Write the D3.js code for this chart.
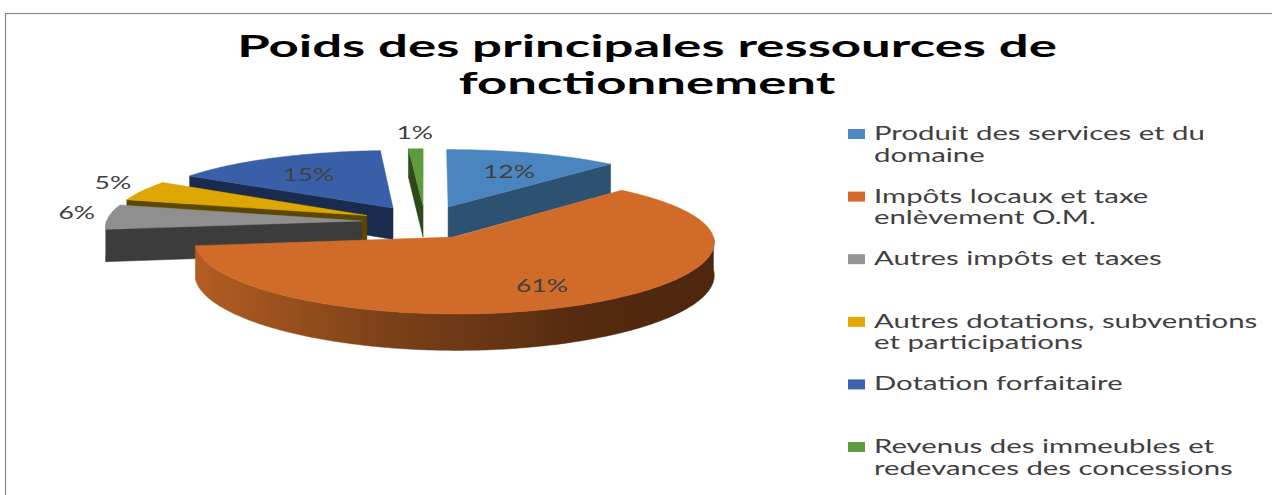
<!DOCTYPE html>
<html>
<head>
<meta charset="utf-8">
<script src="https://cdn.jsdelivr.net/npm/d3@7"></script>
<style>
  body { margin: 0; background: #fff; }
  svg { display: block; }
</style>
</head>
<body>
<div id="chart"></div>
<script>
// Poids des principales ressources de fonctionnement – 3D exploded pie

const titleLines = ["Poids des principales ressources de", "fonctionnement"];

const categories = [
  "Produit des services et du domaine",
  "Impôts locaux et taxe enlèvement O.M.",
  "Autres impôts et taxes",
  "Autres dotations, subventions et participations",
  "Dotation forfaitaire",
  "Revenus des immeubles et redevances des concessions"
];

// legend text split on two lines like the original
const legendLines = [
  ["Produit des services et du", "domaine"],
  ["Impôts locaux et taxe", "enlèvement O.M."],
  ["Autres impôts et taxes"],
  ["Autres dotations, subventions", "et participations"],
  ["Dotation forfaitaire"],
  ["Revenus des immeubles et", "redevances des concessions"]
];

const shares = [12, 61, 6, 5, 15, 1];
const pctLabels = ["12%", "61%", "6%", "5%", "15%", "1%"];

// colours (top face, side faces, legend keys)
const topColors   = ["#4A85BF", "#D06B29", "#8F8F8F", "#DDA600", "#3A5FA9", "#5E9B3C"];
const sideColors  = ["#2D5171", "#7A3D16", "#3C3C3C", "#5C4700", "#1B2B4E", "#2C4A1C"];
const swatchColors = ["#4F88C3", "#D5692C", "#959595", "#E2AA00", "#3C62AE", "#5F9D3F"];

const W = 1272, H = 495;
const font = "Lato, 'Open Sans', 'DejaVu Sans', sans-serif";
const textColor = "#404040";

const svg = d3.select("#chart")
  .append("svg")
  .attr("width", W)
  .attr("height", H);

// chart frame
svg.append("rect")
  .attr("x", 5.5)
  .attr("y", 13.5)
  .attr("width", W)
  .attr("height", H)
  .attr("fill", "#fff")
  .attr("stroke", "#8a8a8a")
  .attr("stroke-width", 1.2);

// helper: text stretched horizontally (the original is a widened Excel chart)
function stretchedText(parent, str, x, y, size, weight, fill, anchor, factor) {
  const g = parent.append("g").attr("transform", `translate(${x},${y}) scale(${factor},1)`);
  return g.append("text")
    .attr("x", 0)
    .attr("y", 0)
    .attr("text-anchor", anchor)
    .style("font-family", font)
    .style("font-size", size + "px")
    .style("font-weight", weight)
    .attr("fill", fill)
    .text(str);
}

function measure(str, size, weight) {
  const t = svg.append("text")
    .style("font-family", font)
    .style("font-size", size + "px")
    .style("font-weight", weight)
    .text(str);
  const w = t.node().getComputedTextLength();
  t.remove();
  return w;
}

// Title
const titleSize = 30;
const titleFactor = 820 / measure(titleLines[0], titleSize, 700);
titleLines.forEach((line, i) => {
  stretchedText(svg, line, 647, 57 + i * 37, titleSize, 700, "#000", "middle", titleFactor);
});

// ---- 3D pie ----
const cx = 425, cy = 222;
const Rx = 255, Ry = 66;          // horizontal / vertical radius of the tilted disc
const perspX = 0.07, perspY = 0.1; // far side shrinks a little
const depth = 32, explode = 0.25;

// ground-plane coords (X right, Z away from viewer) -> screen
function project(X, Z) {
  const gx = 1 / (1 + perspX * Z);
  const gy = 1 / (1 + perspY * Z);
  return { x: cx + Rx * X * gx, y: cy - Ry * Z * gy, h: depth * gy };
}

const pie = d3.pie().sort(null).value(d => d);
const slices = pie(shares).map((a, i) => {
  const mid = (a.startAngle + a.endAngle) / 2;
  return Object.assign({}, a, {
    i,
    mid,
    ox: explode * Math.sin(mid),
    oz: explode * Math.cos(mid)
  });
});

function pt(s, theta, f) {
  return project(s.ox + f * Math.sin(theta), s.oz + f * Math.cos(theta));
}

function arcPts(s, a0, a1) {
  const n = Math.max(2, Math.ceil((a1 - a0) / 0.015));
  return d3.range(n + 1).map(k => pt(s, a0 + (a1 - a0) * k / n, 1));
}

const line = d3.line().x(d => d[0]).y(d => d[1]);
const poly = pts => line(pts) + "Z";

// orange wall gradient
const defs = svg.append("defs");
const grad = defs.append("linearGradient")
  .attr("id", "wallGrad")
  .attr("gradientUnits", "userSpaceOnUse")
  .attr("x1", 190).attr("x2", 715).attr("y1", 0).attr("y2", 0);
grad.append("stop").attr("offset", "0%").attr("stop-color", "#B55E22");
grad.append("stop").attr("offset", "36%").attr("stop-color", "#7D4219");
grad.append("stop").attr("offset", "75%").attr("stop-color", "#552A10");
grad.append("stop").attr("offset", "100%").attr("stop-color", "#4C260D");

const pieG = svg.append("g");

// far slices first
const order = slices.slice().sort((a, b) => b.oz - a.oz);

order.forEach(s => {
  const g = pieG.append("g");
  const apex = pt(s, s.mid, 0);
  const side = s.i === 1 ? "url(#wallGrad)" : sideColors[s.i];

  // radial faces facing the viewer
  [[s.startAngle, Math.sin(s.startAngle) < -1e-6], [s.endAngle, Math.sin(s.endAngle) > 1e-6]]
    .forEach(([ang, visible]) => {
      if (!visible) return;
      const o = pt(s, ang, 1);
      g.append("path")
        .attr("d", poly([[apex.x, apex.y], [o.x, o.y], [o.x, o.y + o.h], [apex.x, apex.y + apex.h]]))
        .attr("fill", sideColors[s.i])
        .attr("stroke", sideColors[s.i])
        .attr("stroke-width", 0.5);
    });

  // outer curved wall (front half only)
  const lo = Math.max(s.startAngle, Math.PI / 2);
  const hi = Math.min(s.endAngle, 3 * Math.PI / 2);
  if (hi > lo) {
    const top = arcPts(s, lo, hi);
    const bottom = top.slice().reverse().map(p => [p.x, p.y + p.h]);
    g.append("path")
      .attr("d", poly(top.map(p => [p.x, p.y]).concat(bottom)))
      .attr("fill", side)
      .attr("stroke", side)
      .attr("stroke-width", 0.5);
  }

  // top face
  const rim = arcPts(s, s.startAngle, s.endAngle).map(p => [p.x, p.y]);
  g.append("path")
    .attr("d", poly([[apex.x, apex.y]].concat(rim)))
    .attr("fill", topColors[s.i])
    .attr("stroke", topColors[s.i])
    .attr("stroke-width", 0.5);
});

// data labels
const labelSize = 18;
const labelFactor = 52 / measure("12%", labelSize, 400);
slices.forEach(s => {
  let x, y;
  if (s.data >= 10) {
    const p = pt(s, s.mid, 0.7);
    x = p.x; y = p.y + 3;
  } else {
    const p = pt(s, s.mid, 1);
    x = p.x + 32 * Math.sin(s.mid);
    y = p.y - 13 * Math.cos(s.mid) - 3;
  }
  stretchedText(svg, pctLabels[s.i], x, y + labelSize * 0.35, labelSize, 400, textColor, "middle", labelFactor);
});

// Legend
const legendSize = 19;
const legendFactor = 331 / measure(legendLines[0][0], legendSize, 400);
const legendX = 848, legendY = 140, legendStep = 62.6, lineStep = 21.5;

legendLines.forEach((lines, i) => {
  const y0 = legendY + i * legendStep;
  svg.append("rect")
    .attr("x", legendX)
    .attr("y", y0 - 11)
    .attr("width", 17)
    .attr("height", 10)
    .attr("fill", swatchColors[i]);
  lines.forEach((ln, j) => {
    stretchedText(svg, ln, legendX + 26, y0 + j * lineStep, legendSize, 400, textColor, "start", legendFactor)
      .append("title").text(categories[i]);
  });
});
</script>
</body>
</html>
